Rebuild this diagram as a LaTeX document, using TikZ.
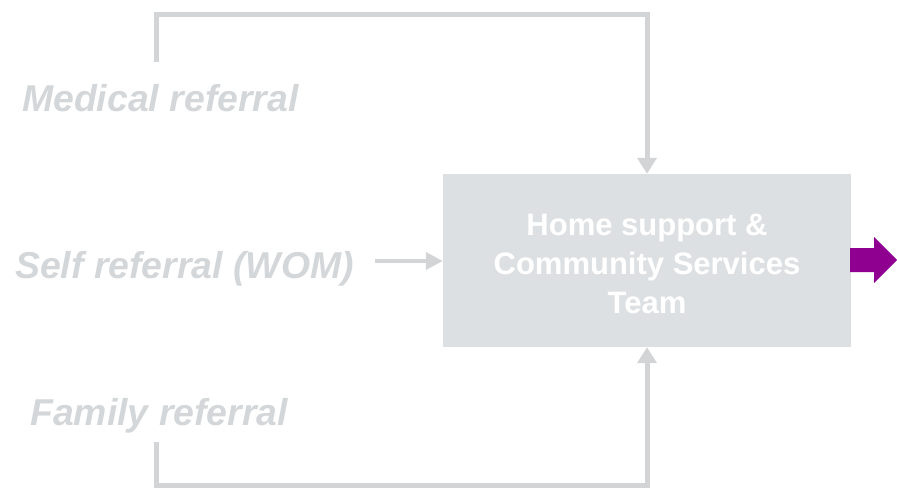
\documentclass[tikz,border=0pt]{standalone}
\usepackage{fontspec}
\setmainfont{Liberation Sans}
\usetikzlibrary{arrows.meta,calc}
\definecolor{lgray}{RGB}{210,212,214}
\definecolor{boxgray}{RGB}{221,224,226}
\definecolor{txtgray}{RGB}{212,215,217}
\definecolor{purp}{RGB}{144,0,144}
\tikzset{
  conn/.style={draw=lgray, line width=5pt, -{Triangle[width=19pt,length=16pt]}},
  lbl/.style={anchor=base west, inner sep=0pt, text=txtgray, font=\fontsize{37.4}{44}\selectfont\bfseries\itshape},
  team/.style={fill=boxgray, minimum width=408pt, minimum height=173pt, inner sep=0pt},
  teamtext/.style={inner sep=0pt, align=center, text=white, font=\fontsize{31}{39}\selectfont\bfseries}
}
\begin{document}
\begin{tikzpicture}[x=1pt,y=-1pt]
\useasboundingbox (0,0) rectangle (897,491);
\node[team] (box) at (647,260.5) {};
\node[teamtext] (boxtxt) at ($(box.center)+(0,3)$) {Home support \&\\Community Services\\Team};
\node[lbl] (med) at (22,111) {Medical referral};
\node[lbl] (self) at (15,278) {Self referral (WOM)};
\node[lbl] (fam) at (30,425) {Family referral};
\coordinate (m1) at (156,62);
\coordinate (f1) at (156,442);
\coordinate (s1) at (375,261);
\draw[conn] (m1) -- (156,14) -| (box.north);
\draw[conn] (f1) -- (156,485) -| (box.south);
\draw[conn, line width=4.5pt, -{Triangle[width=17pt,length=17pt]}] (s1) -- (s1 -| box.west);
\fill[purp] ($(box.east)+(-1,-12.5)$) -- ++(24,0) -- ++(0,-11) -- ++(23,23) -- ++(-23,23) -- ++(0,-11) -- ++(-24,0) -- cycle;
\end{tikzpicture}
\end{document}
